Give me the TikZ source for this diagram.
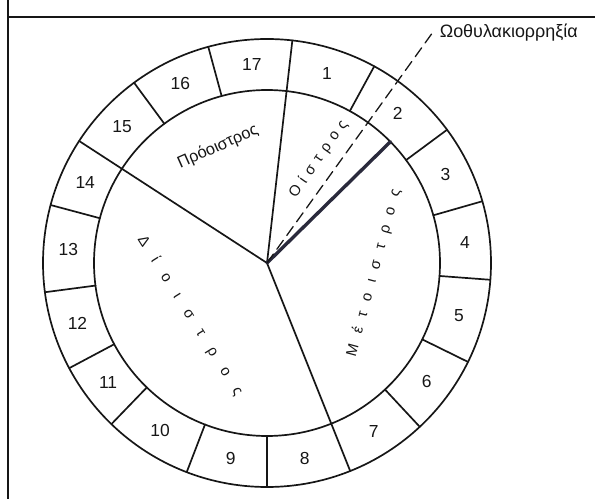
\documentclass[tikz,border=0pt]{standalone}
\usepackage{fontspec}
\setmainfont{Liberation Sans}
\usetikzlibrary{calc}
\definecolor{cycleink}{HTML}{161616}
\definecolor{ovuink}{HTML}{2A2A3C}

\tikzset{
  daynum/.style={font=\fontsize{17.5}{17.5}\selectfont},
  phase/.style={font=\fontsize{15}{15}\selectfont, inner sep=0pt},
}

\begin{document}
\begin{tikzpicture}[color=cycleink, draw=cycleink, line width=1.7pt, line cap=round, line join=round, x=1bp, y=1bp]
  \useasboundingbox (-267,-236) rectangle (328,263);
  % frame
  \draw[line width=2pt, line cap=butt] (-259,-236) -- (-259,263);
  \draw[line width=2pt, line cap=butt] (-259,245.5) -- (328,245.5);

  % rings
  \draw (0,0) circle[radius=224];
  \draw (0,0) circle[radius=173];
  \coordinate (hub) at (0,0);

  % day boundaries
  \foreach \a in {61.4,36.5,16,-4.3,-26.2,-47,-90,-111,-134,-152,-172.5,165,126.4,105.2}
    \draw (\a:173) -- (\a:224);
  % phase boundaries
  \foreach \a in {83.5,-68.2,147}
    \draw (hub) -- (\a:224);

  % ovulation
  \coordinate (rupt) at (44.5:173);
  \coordinate (ovutip) at (54.3:284.5);
  \draw[ovuink, line width=3.4pt] (hub) -- (rupt);
  \draw[line width=1.3pt, dash pattern=on 11pt off 6pt] (hub) -- (ovutip);
  \node[anchor=west, font=\fontsize{18}{18}\selectfont, inner sep=0pt] (ovu) at (172,230) {Ωοθυλακιορρηξία};

  % days
  \foreach \d/\a in {1/72.45,2/48.95,3/26.25,4/5.85,5/-15.25,6/-36.6,7/-57.6,8/-79.1,9/-100.5,
                     10/-122.5,11/-143,12/-162.25,13/176.25,14/156,15/136.7,16/115.8,17/94.35}
    \node[daynum] (d\d) at (\a:199) {\d};

  % phases
  \node[phase, font=\fontsize{16.5}{16.5}\selectfont, rotate=24] (pro) at (-49,116) {Πρόοιστρος};
  \node[phase, rotate=55] (oes) at (51.5,104) {\addfontfeature{LetterSpace=41}Οίστρος};
  \node[phase, rotate=75] (met) at (107,-10) {\addfontfeature{LetterSpace=72}Μέτοιστρος};
  \node[phase, rotate=-58] (dio) at (-77,-53) {\addfontfeature{LetterSpace=102}Δίοιστρος};
\end{tikzpicture}
\end{document}
